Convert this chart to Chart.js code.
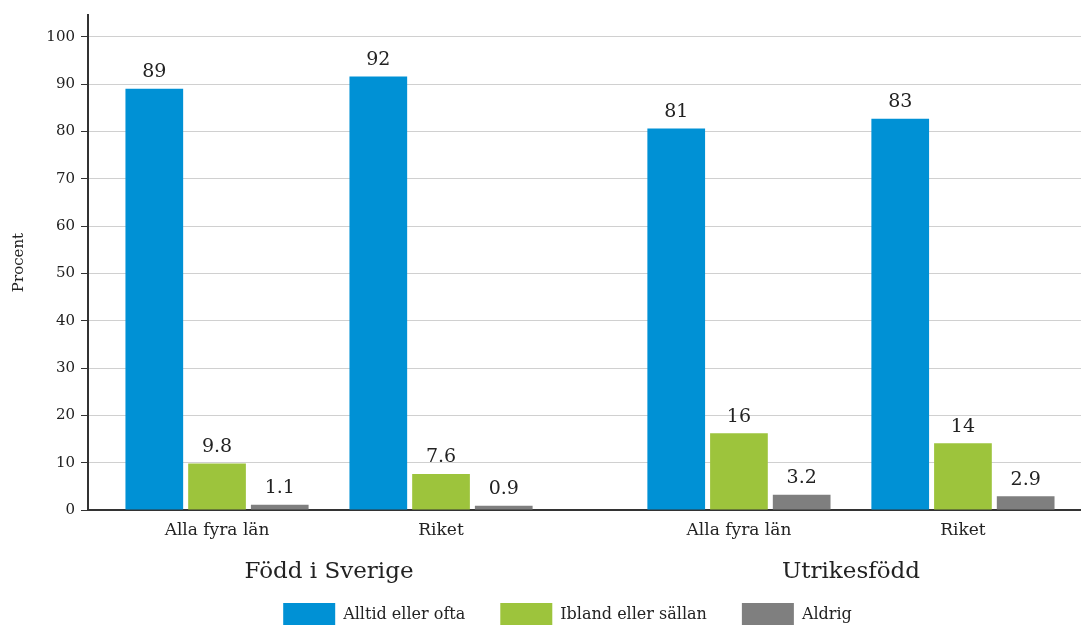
<!DOCTYPE html>
<html>
<head>
<meta charset="utf-8">
<script src="https://cdn.jsdelivr.net/npm/chart.js@4/dist/chart.umd.min.js"></script>
<style>
  html, body { margin: 0; padding: 0; background: #fff; }
  #wrap { width: 1081px; height: 625px; }
</style>
</head>
<body>
<div id="wrap"><canvas id="chart"></canvas></div>
<script>
// Data
const kategorier = ["Alla fyra län", "Riket", "Alla fyra län", "Riket"];
const grupper = ["Född i Sverige", "Utrikesfödd"];
const gruppIndex = [0, 0, 1, 1];
const serier = ["Alltid eller ofta", "Ibland eller sällan", "Aldrig"];
const alltidEllerOfta = [89.0, 91.6, 80.6, 82.7];
const iblandEllerSallan = [9.8, 7.6, 16.2, 14.1];
const aldrig = [1.1, 0.9, 3.2, 2.9];

const FONT = "'DejaVu Serif', Georgia, serif";
Chart.defaults.font.family = FONT;
Chart.defaults.color = "#222";

// each group is pushed a bit to the right of the previous one
const gruppMellanrum = 0.33;
const pos = kategorier.map((k, i) => i + gruppIndex[i] * gruppMellanrum);

function punkter(values) {
  return values.map((v, i) => ({ x: pos[i], y: v }));
}

function fmt(v) {
  return v >= 10 ? String(Math.round(v)) : v.toFixed(1);
}

// value labels above the bars
const varden = {
  id: "varden",
  afterDatasetsDraw(chart) {
    const ctx = chart.ctx;
    ctx.save();
    ctx.font = "19px " + FONT;
    ctx.fillStyle = "#222";
    ctx.textAlign = "center";
    ctx.textBaseline = "bottom";
    chart.data.datasets.forEach((ds, di) => {
      chart.getDatasetMeta(di).data.forEach((bar, i) => {
        ctx.fillText(fmt(ds.data[i].y), bar.x, bar.y - 7);
      });
    });
    ctx.restore();
  }
};

// group names under the category labels
const gruppEtiketter = {
  id: "gruppEtiketter",
  afterDraw(chart) {
    const ctx = chart.ctx;
    const xs = chart.scales.x;
    ctx.save();
    ctx.font = "23px " + FONT;
    ctx.fillStyle = "#222";
    ctx.textAlign = "center";
    ctx.textBaseline = "middle";
    grupper.forEach((g, gi) => {
      const px = pos.filter((p, i) => gruppIndex[i] === gi).map(p => xs.getPixelForValue(p));
      const mid = (Math.min(...px) + Math.max(...px)) / 2;
      ctx.fillText(g, mid, chart.chartArea.bottom + 62);
    });
    ctx.restore();
  }
};

// the legend sits a little right of the canvas centre, under the plot
const legendFlytt = {
  id: "legendFlytt",
  afterLayout(chart) {
    const l = chart.legend;
    if (l) { l.left += 27; l.right += 27; }
  }
};

new Chart(document.getElementById("chart"), {
  type: "bar",
  data: {
    datasets: [
      { label: serier[0], data: punkter(alltidEllerOfta), backgroundColor: "#0091d5" },
      { label: serier[1], data: punkter(iblandEllerSallan), backgroundColor: "#9dc43c" },
      { label: serier[2], data: punkter(aldrig), backgroundColor: "#7f7f7f" }
    ]
  },
  options: {
    responsive: true,
    maintainAspectRatio: false,
    animation: false,
    categoryPercentage: 0.84,
    barPercentage: 0.92,
    layout: { padding: { top: 14, left: 0, right: 0, bottom: -12 } },
    plugins: {
      legend: {
        position: "bottom",
        labels: {
          boxWidth: 52,
          boxHeight: 24,
          padding: 35,
          font: { size: 16 },
          color: "#222"
        }
      },
      tooltip: { enabled: false }
    },
    scales: {
      x: {
        type: "linear",
        min: -0.576,
        max: 3.857,
        offset: false,
        grid: { display: false, drawTicks: false },
        border: { color: "#333", width: 2 },
        afterBuildTicks: s => { s.ticks = pos.map(v => ({ value: v })); },
        afterFit: s => { s.height = 58; },
        ticks: {
          padding: 10,
          maxRotation: 0,
          autoSkip: false,
          font: { size: 17 },
          color: "#222",
          callback: (v, i) => kategorier[i]
        }
      },
      y: {
        min: 0,
        max: 104.6,
        grid: { color: "#d0d0d0", tickColor: "#333", tickLength: 7, lineWidth: 1 },
        border: { color: "#333", width: 2 },
        afterFit: s => { s.width = 88; },
        ticks: {
          stepSize: 10,
          includeBounds: false,
          padding: 6,
          font: { size: 15 },
          color: "#222"
        },
        title: {
          display: true,
          text: "Procent",
          font: { size: 15 },
          color: "#222",
          padding: { top: 10, bottom: 0 }
        }
      }
    }
  },
  plugins: [varden, gruppEtiketter, legendFlytt]
});
</script>
</body>
</html>
